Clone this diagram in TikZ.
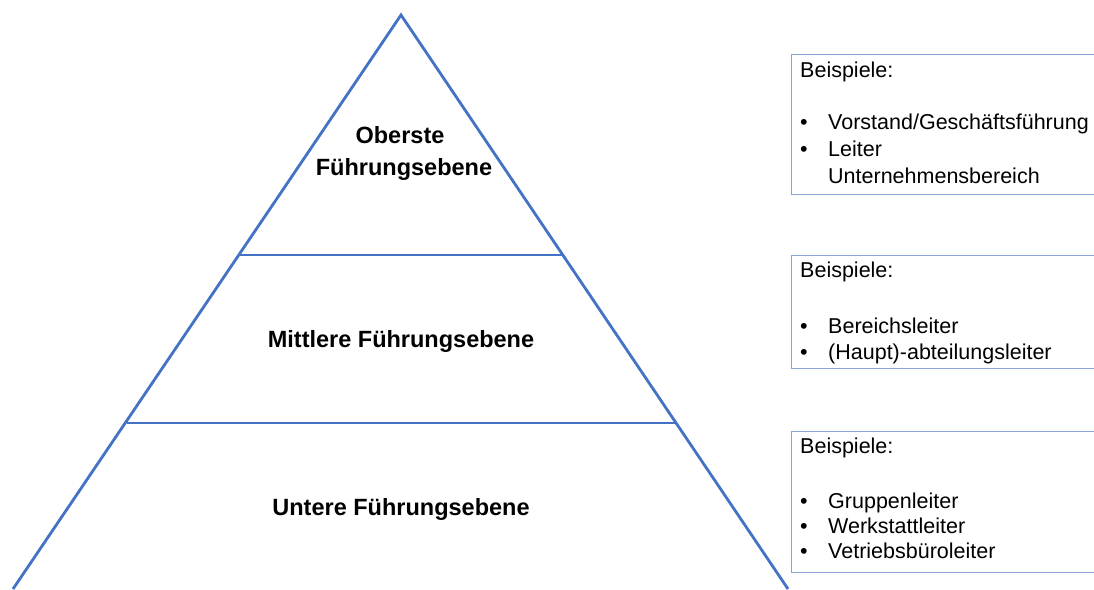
\documentclass[tikz,border=0pt]{standalone}
\usepackage{fontspec}
\setmainfont{Liberation Sans}
\definecolor{pyrblue}{RGB}{68,114,196}
\definecolor{boxblue}{RGB}{140,165,215}
\begin{document}
\begin{tikzpicture}[x=1pt,y=-1pt,
  pyr/.style={draw=pyrblue, line width=2.8pt, line join=miter},
  exbox/.style={draw=boxblue, line width=1.3pt, anchor=north west, inner sep=0pt},
  lvl/.style={font=\fontsize{23.5}{32}\selectfont\bfseries, anchor=base, inner sep=0pt, align=center},
  extxt/.style={font=\fontsize{21.5}{26}\selectfont, anchor=base west, inner sep=0pt},
  bul/.style={font=\fontsize{21.5}{26}\selectfont, anchor=base, inner sep=0pt}]
\clip (0,0) rectangle (1094,589);
\fill[white] (0,0) rectangle (1094,589);
% pyramid
\coordinate (apex) at (401,15);
\coordinate (bl) at (13,589);
\coordinate (br) at (788,589);
\coordinate (l1) at (239.5,255);
\coordinate (r1) at (563,255);
\coordinate (l2) at (126.5,423);
\coordinate (r2) at (676,423);
\draw[pyr] (bl) -- (apex) -- (br);
\draw[pyr] (l1) -- (r1);
\draw[pyr] (l2) -- (r2);
% level labels
\node[lvl] (t1a) at (400,143) {Oberste};
\node[lvl] (t1b) at (404,175) {Führungsebene};
\node[lvl] (t2) at (401,347) {Mittlere Führungsebene};
\node[lvl] (t3) at (401,515) {Untere Führungsebene};
% example boxes
\node[exbox, minimum width=330, minimum height=140] (b1) at (791,54) {};
\node[exbox, minimum width=330, minimum height=113] (b2) at (791,255) {};
\node[exbox, minimum width=330, minimum height=141] (b3) at (791,431) {};
% box 1
\node[extxt] (b1h) at (800,77) {Beispiele:};
\node[bul] (b1p1) at (804,129) {•};
\node[extxt] (b1t1) at (828,129) {Vorstand/Geschäftsführung};
\node[bul] (b1p2) at (804,156) {•};
\node[extxt] (b1t2) at (828,156) {Leiter};
\node[extxt] (b1t3) at (828,183) {Unternehmensbereich};
% box 2
\node[extxt] (b2h) at (800,277) {Beispiele:};
\node[bul] (b2p1) at (804,333) {•};
\node[extxt] (b2t1) at (828,333) {Bereichsleiter};
\node[bul] (b2p2) at (804,359) {•};
\node[extxt] (b2t2) at (828,359) {(Haupt)-abteilungsleiter};
% box 3
\node[extxt] (b3h) at (800,453) {Beispiele:};
\node[bul] (b3p1) at (804,508) {•};
\node[extxt] (b3t1) at (828,508) {Gruppenleiter};
\node[bul] (b3p2) at (804,533) {•};
\node[extxt] (b3t2) at (828,533) {Werkstattleiter};
\node[bul] (b3p3) at (804,558) {•};
\node[extxt] (b3t3) at (828,558) {Vetriebsbüroleiter};
\end{tikzpicture}
\end{document}
